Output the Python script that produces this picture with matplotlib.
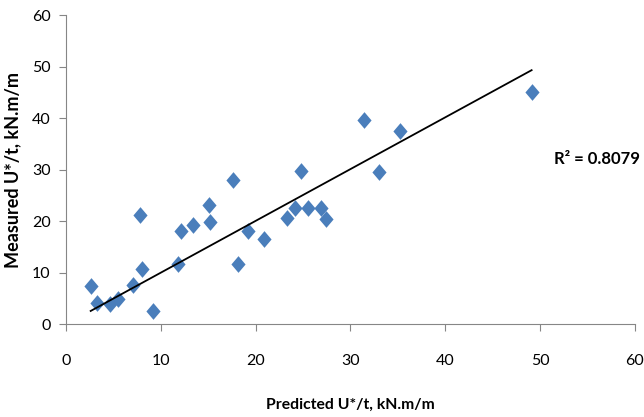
import numpy as np
import matplotlib
matplotlib.use('Agg')
import matplotlib.pyplot as plt

# Predicted vs measured U*/t values (kN.m/m)
predicted = [2.6, 3.3, 4.6, 5.45, 7.1, 8.0, 9.2, 7.8, 11.8, 12.1, 13.4, 15.1, 15.2, 17.6,
             18.1, 19.2, 20.9, 23.3, 24.2, 24.8, 25.5, 26.9, 27.4, 31.4, 33.0, 35.2, 49.1]
measured = [7.4, 4.2, 4.0, 4.9, 7.6, 10.8, 2.7, 21.2, 11.7, 18.2, 19.2, 23.2, 19.8, 28.1,
            11.8, 18.1, 16.6, 20.7, 22.5, 29.8, 22.5, 22.5, 20.5, 39.6, 29.6, 37.5, 45.1]
r2_text = 'R² = 0.8079'
ticks = [0, 10, 20, 30, 40, 50, 60]

plt.rcParams['font.family'] = ['Lato', 'DejaVu Sans']

x = np.array(predicted)
y = np.array(measured)

fig = plt.figure(figsize=(6.44, 4.17), dpi=100)
ax = fig.add_axes([0.1025, 0.222, 0.8835, 0.742])

diamond = [(0, 1), (0.85, 0), (0, -1), (-0.85, 0)]
ax.plot(x, y, linestyle='none', marker=diamond, markersize=12,
        color='#4a7ebb', markeredgewidth=0)

# trendline through the origin, over the data range
slope = np.sum(x * y) / np.sum(x * x)
xs = np.array([x.min(), x.max()])
ax.plot(xs, slope * xs, color='black', linewidth=1.3)

ax.text(51.5, 32.1, r2_text, fontsize=12, fontweight='bold', va='center', ha='left')

ax.set_xlim(0, 60)
ax.set_ylim(0, 60)
ax.set_xticks(ticks)
ax.set_yticks(ticks)
for s in ['top', 'right']:
    ax.spines[s].set_visible(False)
for s in ['left', 'bottom']:
    ax.spines[s].set_color('#868686')
ax.tick_params(axis='x', direction='out', length=5, color='#868686', labelsize=11.5, pad=16)
ax.tick_params(axis='y', direction='out', length=5, color='#868686', labelsize=11.5, pad=6)

ax.set_xlabel('Predicted U*/t, kN.m/m', fontsize=11.3, fontweight='bold', labelpad=22)
ax.set_ylabel('Measured U*/t, kN.m/m', fontsize=13, fontweight='bold', labelpad=8)

fig.savefig('out.png', dpi=100)
